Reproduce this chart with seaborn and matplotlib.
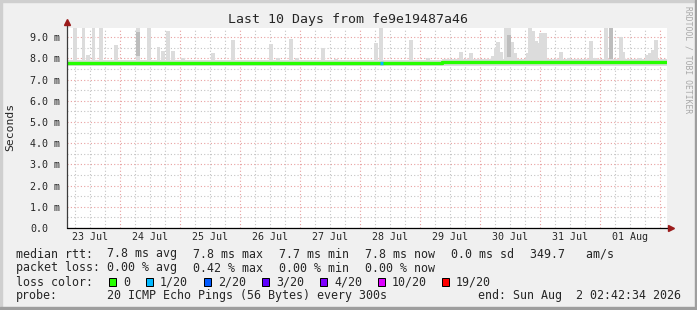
import numpy as np
import pandas as pd
import matplotlib
matplotlib.use("Agg")
import matplotlib.pyplot as plt
import matplotlib.dates as mdates
import matplotlib.transforms as mtransforms
from matplotlib.patches import Rectangle
import seaborn as sns

# ---- data ----
end_time = pd.Timestamp("2026-08-02 02:42:34")
start_time = end_time - pd.Timedelta(days=10)

# median rtt in ms, one value every 6 hours from the start (last value repeats to the end)
median_ms = [7.77, 7.77, 7.77, 7.77, 7.77, 7.77, 7.77, 7.77, 7.77, 7.77,
             7.77, 7.77, 7.77, 7.77, 7.77, 7.77, 7.77, 7.77, 7.77, 7.77,
             7.77, 7.77, 7.76, 7.76, 7.77, 7.82, 7.82, 7.82, 7.82, 7.82,
             7.82, 7.82, 7.82, 7.82, 7.82, 7.82, 7.82, 7.82, 7.82, 7.82, 7.82]
# base smoke band around the median (min / max of the 20 pings)
smoke_low = [7.62] * 25 + [7.66] * 16
smoke_high = [7.93] * 25 + [7.98] * 16

# smoke spikes: hours since start, top of the spike in ms
spike_hours = [3.2, 6.6, 8.4, 10.6, 13.6, 19.6, 28.4, 32.8, 36.6, 38.4,
               40.4, 42.4, 46.4, 58.4, 66.4, 81.6, 84.4, 89.6, 92.0, 102.4,
               107.6, 123.6, 125.6, 137.6, 144.4, 157.6, 161.6, 170.4, 171.6, 172.4,
               173.6, 175.6, 176.8, 178.0, 179.2, 184.4, 185.2, 186.6, 187.6, 188.4,
               189.6, 190.4, 191.4, 197.6, 200.8, 209.6, 211.2, 215.6, 217.6, 221.6,
               222.4, 229.2, 232.0, 233.2, 234.4, 235.6, 238.0]
spike_top = [9.6, 9.6, 8.15, 9.6, 9.6, 8.63, 9.6, 9.6, 8.55, 8.35,
             9.29, 8.35, 8.0, 8.27, 8.87, 8.68, 8.0, 8.92, 8.0, 8.49,
             7.97, 8.74, 9.6, 8.87, 8.0, 8.3, 8.25, 8.13, 8.5, 8.79,
             8.3, 9.6, 9.6, 8.79, 8.25, 8.25, 9.6, 9.27, 8.82, 8.74,
             9.2, 9.2, 9.2, 8.3, 8.0, 8.82, 8.0, 9.6, 9.6, 9.0,
             8.3, 8.0, 8.15, 8.25, 8.4, 8.87, 7.97]
# denser (darker) parts of a few spikes: hours, bottom, top
dark_hours = [28.4, 176.8, 217.6]
dark_low = [8.1, 8.05, 7.95]
dark_high = [9.25, 9.1, 9.6]

# packet loss events on the median line: hours since start, lost pings of 20
loss_hours = [125.2]
loss_count = [1]

loss_labels = ["0", "1/20", "2/20", "3/20", "4/20", "10/20", "19/20"]
loss_colors = ["#26ff00", "#00b8ff", "#0059ff", "#5e00ff", "#7e00ff", "#dd00ff", "#ff0000"]

# ---- style ----
sns.set_style("white")
plt.rcParams["font.family"] = ["DejaVu Sans Mono"]
W, H = 697, 310
fig = plt.figure(figsize=(W / 100, H / 100), dpi=100, facecolor="#F0F0F0")

# frame shading
fig.patches.extend([
    Rectangle((0, 1 - 2 / H), 1, 2 / H, transform=fig.transFigure, color="#CFCFCF"),
    Rectangle((0, 0), 2 / W, 1, transform=fig.transFigure, color="#CFCFCF"),
    Rectangle((0, 0), 1, 3 / H, transform=fig.transFigure, color="#9E9E9E"),
    Rectangle((1 - 2 / W, 0), 2 / W, 1, transform=fig.transFigure, color="#9E9E9E"),
])

ax = fig.add_axes([67 / W, (H - 228) / H, 600 / W, 200 / H])
ax.set_facecolor("white")

t0 = mdates.date2num(start_time)
hour = 1 / 24.0
x6 = t0 + np.arange(len(median_ms)) * 6 * hour

# smoke
ax.fill_between(x6, smoke_low, smoke_high, step="post", color="#DCDCDC", lw=0, zorder=2)
sx = t0 + np.array(spike_hours) * hour
ax.bar(sx, np.array(spike_top) - 7.9, bottom=7.9, width=1.25 * hour, color="#DCDCDC",
       linewidth=0, zorder=2)
dx = t0 + np.array(dark_hours) * hour
ax.bar(dx, np.array(dark_high) - np.array(dark_low), bottom=dark_low, width=1.25 * hour,
       color="#BDBDBD", linewidth=0, zorder=2)

# median line
df = pd.DataFrame({"time": x6, "rtt": median_ms})
sns.lineplot(data=df, x="time", y="rtt", color=loss_colors[0], linewidth=2.4,
             drawstyle="steps-post", estimator=None, ax=ax, zorder=3)
for h, n in zip(loss_hours, loss_count):
    xl = t0 + h * hour
    yl = median_ms[int(h // 6)]
    ax.plot([xl, xl + hour], [yl, yl], color=loss_colors[n], lw=2.4,
            solid_capstyle="butt", zorder=4)

ax.set_xlim(t0, mdates.date2num(end_time))
ax.set_ylim(0, 9.43)
ax.set_xlabel("")
ax.set_ylabel("")

# grid
midnights = pd.date_range(start_time.ceil("D"), end_time, freq="D")
six_h = pd.date_range(start_time.ceil("6h"), end_time, freq="6h")
ax.set_xticks(mdates.date2num(midnights))
ax.set_xticks(mdates.date2num(six_h), minor=True)
ax.set_xticklabels([])
ax.set_yticks(np.arange(0, 10, 1.0))
ax.set_yticks(np.arange(0.5, 9.5, 1.0), minor=True)
ax.set_yticklabels(["0.0"] + [f"{v:.1f} m" for v in np.arange(1, 10, 1.0)])
ax.set_axisbelow(True)
ax.grid(which="major", color="#E9A0A0", linestyle=(0, (1, 2)), linewidth=0.8)
ax.grid(which="minor", color="#C4C4C4", linestyle=(0, (1, 2)), linewidth=0.8)
ax.tick_params(axis="both", which="major", length=1.5, width=0.72, color="#E9A5A5",
               labelsize=7.2, direction="out")
ax.tick_params(axis="both", which="minor", length=1.5, width=0.72, color="#C8C8C8")
ax.tick_params(axis="y", pad=25.2)
for lab in ax.get_yticklabels():
    lab.set_horizontalalignment("left")

noons = pd.date_range(start_time.ceil("D") - pd.Timedelta(hours=12), end_time, freq="D")
trans = mtransforms.blended_transform_factory(ax.transData, ax.transAxes)
for n in noons:
    ax.text(mdates.date2num(n), -0.047, n.strftime("%d %b"), transform=trans,
            ha="center", va="center", fontsize=7.2)

for s in ax.spines.values():
    s.set_visible(False)
ax.plot([0, 0], [0, 1.03], transform=ax.transAxes, color="#3C3C3C", lw=0.9,
        clip_on=False, zorder=5)
ax.plot([0, 1.006], [0, 0], transform=ax.transAxes, color="#000000", lw=0.9,
        clip_on=False, zorder=5)
ax.plot([0], [1.03], marker="^", markersize=4.5, color="#9B1B1B", transform=ax.transAxes,
        clip_on=False, zorder=6)
ax.plot([1.007], [0], marker=">", markersize=4.5, color="#9B1B1B", transform=ax.transAxes,
        clip_on=False, zorder=6)

# titles
fig.text(348 / W, 1 - 19 / H, "Last 10 Days from fe9e19487a46", ha="center", va="center",
         fontsize=9.5)
fig.text(10 / W, 1 - 127 / H, "Seconds", rotation=90, ha="center", va="center",
         fontsize=8.2)
fig.text(688 / W, 1 - 60 / H, "RRDTOOL / TOBI OETIKER", rotation=270, ha="center",
         va="center", fontsize=5.8, color="#A8A8A8")

# legend block
def put(xp, yp, s):
    fig.text(xp / W, 1 - yp / H, s, ha="left", va="center", fontsize=8.4)

put(16, 254, "median rtt:")
for xp, s in zip([107, 193, 279, 365, 451, 530],
                 ["7.8 ms avg", "7.8 ms max", "7.7 ms min", "7.8 ms now", "0.0 ms sd",
                  "349.7   am/s"]):
    put(xp, 254, s)
put(16, 268, "packet loss:")
for xp, s in zip([107, 193, 279, 365],
                 ["0.00 % avg", "0.42 % max", "0.00 % min", "0.00 % now"]):
    put(xp, 268, s)
put(16, 282, "loss color:")
box_x = [109, 146, 204, 262, 320, 378, 442]
for bx, lab, col in zip(box_x, loss_labels, loss_colors):
    fig.patches.append(Rectangle((bx / W, 1 - 286 / H), 7 / W, 8 / H, transform=fig.transFigure,
                                 facecolor=col, edgecolor="black", linewidth=0.72))
    put(bx + 14, 282, lab)
put(16, 296, "probe:")
put(107, 296, "20 ICMP Echo Pings (56 Bytes) every 300s")
put(478, 296, "end: " + end_time.strftime("%a %b ") + f"{end_time.day:2d} "
    + end_time.strftime("%H:%M:%S %Y"))

fig.savefig("out.png", dpi=100, facecolor=fig.get_facecolor())
